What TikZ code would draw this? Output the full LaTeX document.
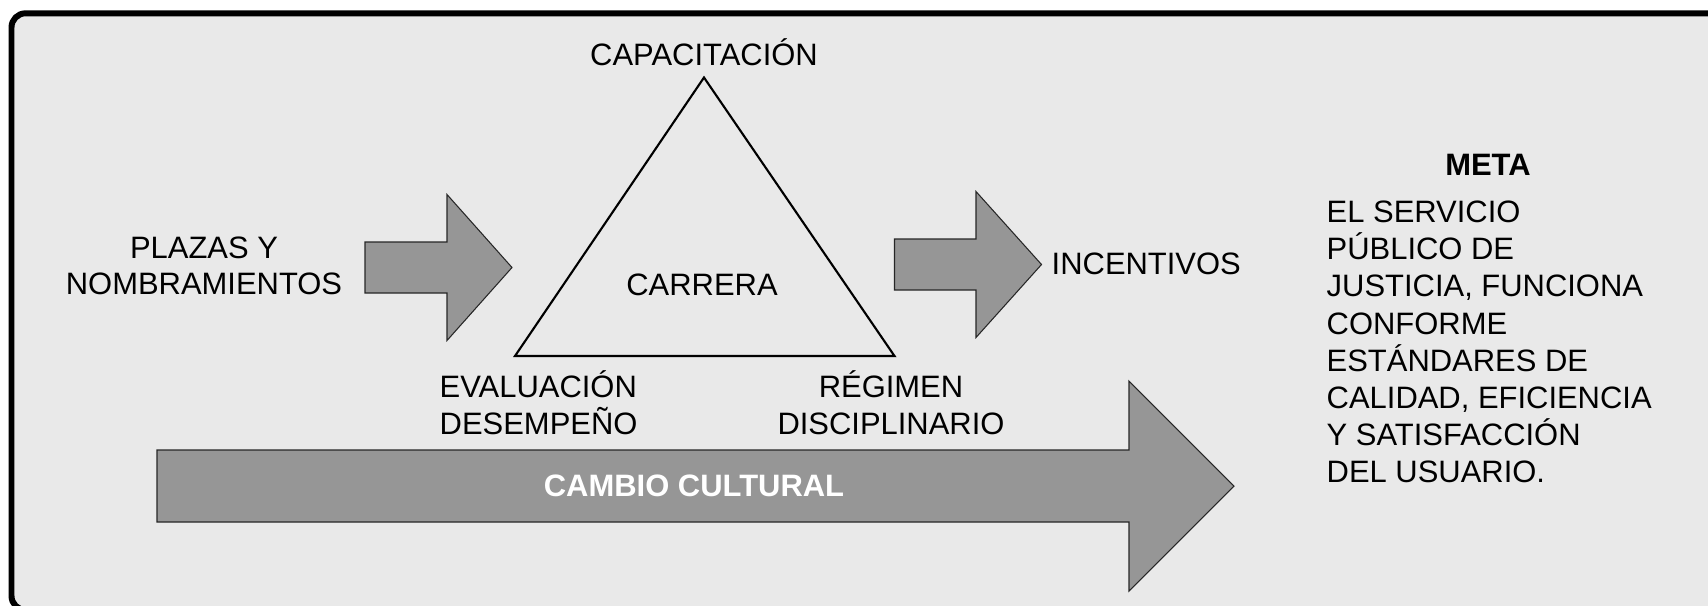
\documentclass[tikz,border=0pt]{standalone}
\usepackage{fontspec}
\setmainfont{Liberation Sans}
\usepackage{tikz}
\usetikzlibrary{positioning}
\usetikzlibrary{calc}
\definecolor{panelgray}{RGB}{233,233,233}
\definecolor{arrowgray}{RGB}{150,150,150}
\tikzstyle{panel}=[draw=black, fill=panelgray, line width=1.7pt, rounded corners=4pt]
\tikzstyle{blockarrow}=[draw=black!85, fill=arrowgray, line width=0.3pt]
\tikzstyle{tri}=[draw=black, line width=0.6pt]
\tikzstyle{lbl}=[font=\fontsize{8.8}{10.4}\selectfont, inner sep=0pt, align=center]
\tikzset{boldlbl/.style={lbl, font=\fontsize{8.8}{10.4}\selectfont\bfseries}}

\begin{document}
\begin{tikzpicture}[x=0.01cm, y=-0.01cm]

   \useasboundingbox (0,0) rectangle (1708,605);
   \clip (0,0) rectangle (1708,605);
   \draw[panel] (11.5,13.3) rectangle (1740,610);

   % flechas
   \def\cy{267.5};
   \draw[blockarrow] (365,\cy-25.5) -- (447,\cy-25.5) -- (447,\cy-73) -- (512,\cy) -- (447,\cy+73) -- (447,\cy+25.5) -- (365,\cy+25.5) -- cycle;

   \def\cy{264.5};
   \draw[blockarrow] (894.5,\cy-25.5) -- (976,\cy-25.5) -- (976,\cy-73) -- (1041.5,\cy) -- (976,\cy+73) -- (976,\cy+25.5) -- (894.5,\cy+25.5) -- cycle;

   \def\cy{486};
   \draw[blockarrow] (157,\cy-36) -- (1129,\cy-36) -- (1129,\cy-105) -- (1234,\cy) -- (1129,\cy+105) -- (1129,\cy+36) -- (157,\cy+36) -- cycle;

   % triangulo
   \coordinate (apex) at (704,77.5);
   \coordinate (tl) at (515,356);
   \coordinate (tr) at (894.5,356);
   \draw[tri] (apex) -- (tl) -- (tr) -- cycle;

   % base = ultima linea en nodos de dos lineas
   \node[lbl, anchor=base] (capac) at (704,65.7) {CAPACITACIÓN};
   \node[lbl, anchor=base] (carrera) at (702,295.7) {CARRERA};
   \node[lbl, anchor=base] (plazas) at (204,294.7) {PLAZAS Y\\NOMBRAMIENTOS};
   \node[lbl, anchor=base west] (incent) at (1051,274) {INCENTIVOS};
   \node[lbl, align=left, anchor=base west] (evalu) at (439,434) {EVALUACIÓN\\DESEMPEÑO};
   \node[lbl, anchor=base] (regimen) at (891,434) {RÉGIMEN\\DISCIPLINARIO};
   \node[boldlbl, text=white, anchor=base] (cambio) at (694,496) {CAMBIO CULTURAL};

   \node[boldlbl, anchor=base] (meta) at (1488,175) {META};
   \foreach \txt [count=\i] in {EL SERVICIO, PÚBLICO DE, {JUSTICIA, FUNCIONA}, CONFORME, ESTÁNDARES DE, {CALIDAD, EFICIENCIA}, Y SATISFACCIÓN, DEL USUARIO.}
          \node[lbl, anchor=base west] (meta\i) at (1326,185.6+37.1*\i) {\txt};

\end{tikzpicture}
\end{document}
